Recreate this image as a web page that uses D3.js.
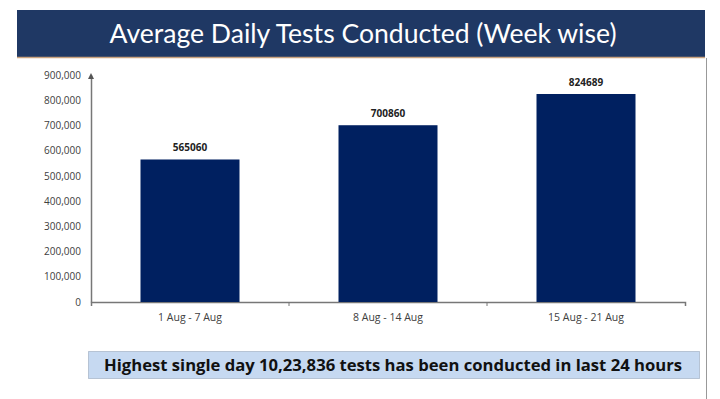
<!DOCTYPE html>
<html>
<head>
<meta charset="utf-8">
<script src="https://cdn.jsdelivr.net/npm/d3@7"></script>
<style>
  body { margin: 0; background: #fff; }
  svg { display: block; }
</style>
</head>
<body>
<svg id="chart" width="720" height="399"></svg>
<script>
const weeks = ['1 Aug - 7 Aug', '8 Aug - 14 Aug', '15 Aug - 21 Aug'];
const avgTests = [565060, 700860, 824689];
const yTicks = [0, 100000, 200000, 300000, 400000, 500000, 600000, 700000, 800000, 900000];
const titleText = 'Average Daily Tests Conducted (Week wise)';
const noteText = 'Highest single day 10,23,836 tests has been conducted in last 24 hours';

const svg = d3.select('#chart');

// banner
svg.append('rect').attr('x', 17).attr('y', 10).attr('width', 688).attr('height', 47).attr('fill', '#1f3864');
svg.append('line').attr('x1', 17).attr('x2', 705).attr('y1', 57.5).attr('y2', 57.5)
    .attr('stroke', '#c9a27e').attr('stroke-width', 1.5);
svg.append('text').attr('x', 363).attr('y', 43).attr('text-anchor', 'middle')
    .attr('fill', '#fff').style('font-family', 'Lato, sans-serif').style('font-size', '26.5px')
    .attr('textLength', 507).attr('lengthAdjust', 'spacingAndGlyphs')
    .text(titleText);

// right border of slide
svg.append('line').attr('x1', 706.5).attr('x2', 706.5).attr('y1', 58).attr('y2', 399)
    .attr('stroke', '#999').attr('stroke-width', 1);

const x = d3.scaleBand().domain(weeks).range([91, 685]).paddingInner(0.5).paddingOuter(0.25);
const y = d3.scaleLinear().domain([0, 900000]).range([302, 75]);
const gap = (x.step() - x.bandwidth()) / 2;

// y axis
const yAxis = svg.append('g').attr('transform', 'translate(91,0)')
    .call(d3.axisLeft(y).tickValues(yTicks).tickFormat(d3.format(',')).tickSize(0).tickPadding(10));
yAxis.select('.domain').attr('stroke', '#777').attr('stroke-width', 1.5);
yAxis.selectAll('text').attr('fill', '#404040').style('font-family', '"Open Sans", sans-serif').style('font-size', '10px');
svg.append('path').attr('d', `M88,${y(900000) + 4} L91,${y(900000) - 2} L94,${y(900000) + 4} Z`).attr('fill', '#555');

// x axis
const xAxis = svg.append('g').attr('transform', 'translate(0,302)')
    .call(d3.axisBottom(x).tickSizeInner(0).tickSizeOuter(4).tickPadding(12));
xAxis.select('.domain').attr('stroke', '#777').attr('stroke-width', 1.5);
xAxis.selectAll('text').attr('fill', '#404040').style('font-family', '"Open Sans", sans-serif').style('font-size', '10.5px');
// category separators
svg.selectAll('.sep').data(weeks.slice(1)).enter().append('line')
    .attr('x1', d => x(d) - gap)
    .attr('x2', d => x(d) - gap)
    .attr('y1', 302).attr('y2', 306).attr('stroke', '#777');

// bars
svg.selectAll('.bar').data(avgTests).enter().append('rect')
    .attr('x', (d, i) => x(weeks[i]))
    .attr('y', d => y(d))
    .attr('width', x.bandwidth())
    .attr('height', d => 302 - y(d))
    .attr('fill', '#002060');

svg.selectAll('.val').data(avgTests).enter().append('text')
    .attr('x', (d, i) => x(weeks[i]) + x.bandwidth() / 2)
    .attr('y', d => y(d) - 8)
    .attr('text-anchor', 'middle')
    .attr('fill', '#222').style('font-family', '"Open Sans", sans-serif').style('font-size', '10px').style('font-weight', 'bold')
    .text(d => d);

// note box
svg.append('rect').attr('x', 88.5).attr('y', 351.5).attr('width', 611).attr('height', 27)
    .attr('fill', '#c6d9f1').attr('stroke', '#8a9bb0').attr('stroke-dasharray', '1,1');
svg.append('text').attr('x', 393).attr('y', 371).attr('text-anchor', 'middle')
    .attr('fill', '#111').style('font-family', '"Open Sans", sans-serif').style('font-size', '16px').style('font-weight', 'bold')
    .attr('textLength', 578).attr('lengthAdjust', 'spacingAndGlyphs')
    .text(noteText);
</script>
</body>
</html>
